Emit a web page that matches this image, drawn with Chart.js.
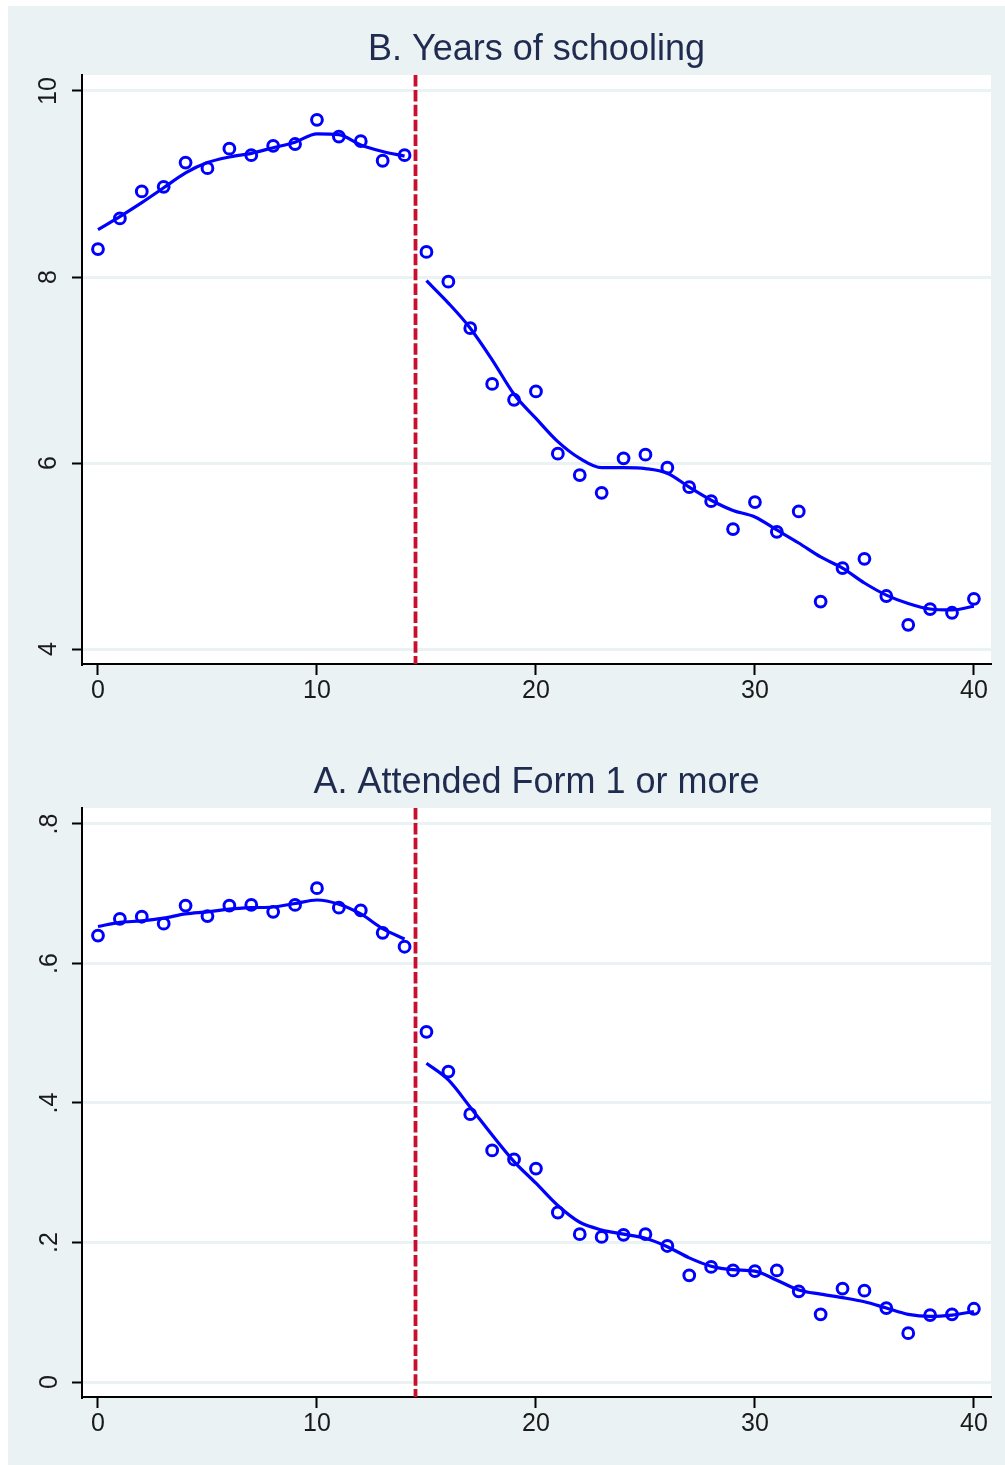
<!DOCTYPE html>
<html>
<head>
<meta charset="utf-8">
<script src="https://cdn.jsdelivr.net/npm/chart.js@4.4.1/dist/chart.umd.min.js"></script>
<style>
  html, body { margin: 0; padding: 0; background: #ffffff; overflow: hidden; width: 1005px; height: 1465px; }
  #frame { position: absolute; left: 8px; top: 6px; width: 997px; height: 1459px; background: #EAF2F3; overflow: hidden; }
  #frame canvas { position: absolute; left: 0; }
  #panelB { top: 0; }
  #panelA { top: 733px; }
</style>
</head>
<body>
<div id="frame">
  <canvas id="panelB" width="997" height="728"></canvas>
  <canvas id="panelA" width="997" height="728"></canvas>
</div>
<script>
// Running variable: cohorts on either side of the cutoff
const xLeft  = [0, 1, 2, 3, 4, 5, 6, 7, 8, 9, 10, 11, 12, 13, 14];
const xRight = [15, 16, 17, 18, 19, 20, 21, 22, 23, 24, 25, 26, 27, 28, 29, 30, 31, 32, 33, 34, 35, 36, 37, 38, 39, 40];
const cutoff = 14.5;

// Panel B: years of schooling (cell means and smoothed fit)
const schoolingLeft  = [8.30, 8.63, 8.92, 8.97, 9.23, 9.17, 9.38, 9.31, 9.41, 9.43, 9.69, 9.51, 9.46, 9.25, 9.31];
const schoolingRight = [8.27, 7.95, 7.45, 6.85, 6.68, 6.77, 6.10, 5.87, 5.68, 6.05, 6.09, 5.95, 5.74, 5.59, 5.29, 5.58, 5.26, 5.48, 4.51, 4.87, 4.97, 4.57, 4.26, 4.43, 4.39, 4.54];
const schoolingFitLeft  = [8.51, 8.65, 8.80, 8.96, 9.12, 9.23, 9.29, 9.33, 9.39, 9.45, 9.54, 9.53, 9.42, 9.35, 9.30];
const schoolingFitRight = [7.96, 7.72, 7.45, 7.11, 6.74, 6.48, 6.23, 6.05, 5.95, 5.95, 5.94, 5.89, 5.74, 5.60, 5.49, 5.42, 5.28, 5.14, 4.99, 4.87, 4.71, 4.58, 4.49, 4.43, 4.42, 4.46];

// Panel A: share attending Form 1 or more
const attendLeft  = [0.640, 0.664, 0.667, 0.657, 0.683, 0.668, 0.683, 0.684, 0.674, 0.684, 0.708, 0.680, 0.676, 0.644, 0.624];
const attendRight = [0.502, 0.445, 0.384, 0.332, 0.319, 0.306, 0.243, 0.212, 0.208, 0.211, 0.212, 0.195, 0.153, 0.165, 0.160, 0.159, 0.160, 0.130, 0.097, 0.134, 0.131, 0.106, 0.070, 0.096, 0.097, 0.105];
const attendFitLeft  = [0.653, 0.659, 0.661, 0.665, 0.671, 0.674, 0.678, 0.680, 0.681, 0.686, 0.691, 0.685, 0.671, 0.650, 0.635];
const attendFitRight = [0.457, 0.433, 0.394, 0.354, 0.316, 0.285, 0.253, 0.229, 0.218, 0.212, 0.206, 0.194, 0.178, 0.166, 0.161, 0.159, 0.146, 0.132, 0.126, 0.121, 0.115, 0.106, 0.097, 0.094, 0.096, 0.101];

// Axis ticks
const xTickValues = [0, 10, 20, 30, 40];
const xTickLabels = ['0', '10', '20', '30', '40'];
const yTickValuesB = [4, 6, 8, 10];
const yTickLabelsB = ['4', '6', '8', '10'];
const yTickValuesA = [0, 0.2, 0.4, 0.6, 0.8];
const yTickLabelsA = ['0', '.2', '.4', '.6', '.8'];

const FONT = "'Liberation Sans', Arial, Helvetica, sans-serif";
const BLUE = '#0000FF';
const RED = '#C8102E';
const GRID = '#EAF2F3';
const TITLE_COLOR = '#1F2C50';
const TICK_COLOR = '#1a1a1a';

Chart.defaults.font.family = FONT;

const toPoints = (xs, ys) => xs.map((x, i) => ({ x: x, y: ys[i] }));

// White plot region inside the tinted graph region
const plotBackground = {
  id: 'plotBackground',
  beforeDraw(chart, args, opts) {
    const { ctx, chartArea } = chart;
    ctx.save();
    ctx.fillStyle = opts.color;
    ctx.fillRect(chartArea.left, chartArea.top, chartArea.right - chartArea.left, chartArea.bottom - chartArea.top);
    ctx.restore();
  }
};

// Dashed vertical line at the cutoff, spanning the plot region
const cutoffLine = {
  id: 'cutoffLine',
  beforeDatasetsDraw(chart, args, opts) {
    const { ctx, chartArea, scales } = chart;
    const px = scales.x.getPixelForValue(opts.value);
    ctx.save();
    ctx.beginPath();
    ctx.rect(chartArea.left, chartArea.top, chartArea.right - chartArea.left, chartArea.bottom - chartArea.top);
    ctx.clip();
    ctx.strokeStyle = opts.color;
    ctx.lineWidth = opts.width;
    ctx.setLineDash(opts.dash);
    ctx.beginPath();
    ctx.moveTo(px, chartArea.top);
    ctx.lineTo(px, chartArea.bottom);
    ctx.stroke();
    ctx.restore();
  }
};

function makePanel(canvasId, title, yLeft, yRight, fitLeft, fitRight, yMin, yMax, yTicks, yLabels, yLabelPad) {
  const markers = (xs, ys) => ({
    type: 'scatter',
    data: toPoints(xs, ys),
    showLine: false,
    pointStyle: 'circle',
    pointRadius: 5.4,
    pointBorderWidth: 3,
    pointBorderColor: BLUE,
    pointBackgroundColor: 'rgba(0,0,0,0)',
    borderColor: BLUE,
    backgroundColor: 'rgba(0,0,0,0)',
    clip: false
  });
  const fit = (xs, ys) => ({
    type: 'scatter',
    data: toPoints(xs, ys),
    showLine: true,
    pointRadius: 0,
    borderColor: BLUE,
    borderWidth: 3.2,
    cubicInterpolationMode: 'monotone',
    fill: false
  });

  return new Chart(document.getElementById(canvasId), {
    type: 'scatter',
    data: {
      datasets: [
        fit(xLeft, fitLeft),
        fit(xRight, fitRight),
        markers(xLeft, yLeft),
        markers(xRight, yRight)
      ]
    },
    options: {
      responsive: false,
      animation: false,
      events: [],
      layout: { padding: { left: 0, right: 14, top: 0, bottom: 0 } },
      plugins: {
        legend: { display: false },
        tooltip: { enabled: false },
        title: {
          display: true,
          text: title,
          fullSize: false,
          color: TITLE_COLOR,
          font: { family: FONT, size: 36, weight: 'normal', lineHeight: 1.2 },
          padding: { top: 22, bottom: 3.8 }
        },
        plotBackground: { color: '#FFFFFF' },
        cutoffLine: { value: cutoff, color: RED, width: 3.8, dash: [11.5, 3.4] }
      },
      scales: {
        x: {
          type: 'linear',
          min: -0.73,
          max: 40.78,
          afterBuildTicks: s => { s.ticks = xTickValues.map(v => ({ value: v })); },
          afterFit: s => { s.height = 70; },
          grid: { drawOnChartArea: false, drawTicks: true, tickLength: 11, tickWidth: 2, tickColor: '#000' },
          border: { display: true, color: '#000', width: 2 },
          ticks: {
            color: TICK_COLOR,
            font: { family: FONT, size: 25 },
            padding: 1,
            minRotation: 0,
            maxRotation: 0,
            callback: v => xTickLabels[xTickValues.indexOf(v)]
          }
        },
        y: {
          type: 'linear',
          min: yMin,
          max: yMax,
          afterBuildTicks: s => { s.ticks = yTicks.map(v => ({ value: v })); },
          afterFit: s => { s.width = 74; },
          grid: { color: GRID, lineWidth: 3, drawTicks: true, tickLength: 10, tickWidth: 2, tickColor: '#000' },
          border: { display: true, color: '#000', width: 2 },
          ticks: {
            color: TICK_COLOR,
            font: { family: FONT, size: 25 },
            minRotation: 90,
            maxRotation: 90,
            crossAlign: 'center',
            padding: yLabelPad,
            callback: v => yLabels[yTicks.indexOf(v)]
          }
        }
      }
    },
    plugins: [plotBackground, cutoffLine]
  });
}

makePanel('panelB', 'B. Years of schooling',
  schoolingLeft, schoolingRight, schoolingFitLeft, schoolingFitRight,
  3.839, 10.172, yTickValuesB, yTickLabelsB, 8.5);

makePanel('panelA', 'A. Attended Form 1 or more',
  attendLeft, attendRight, attendFitLeft, attendFitRight,
  -0.0215, 0.8229, yTickValuesA, yTickLabelsA, 11.5);
</script>
</body>
</html>
